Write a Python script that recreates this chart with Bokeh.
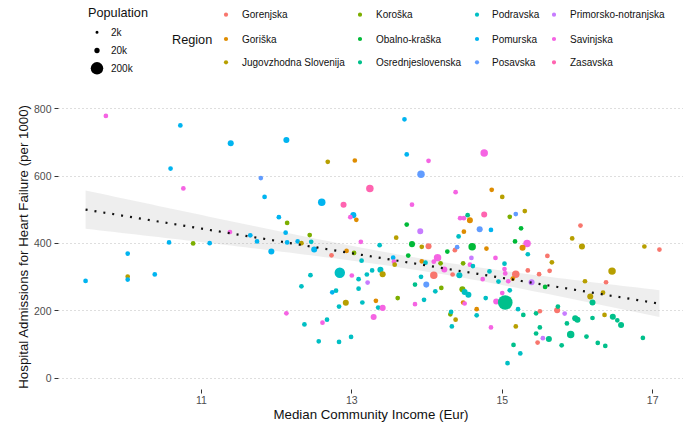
import numpy as np
from bokeh.plotting import figure
from bokeh.models import Range1d, FixedTicker, ColumnDataSource
from bokeh.layouts import column
from bokeh.embed import file_html
from bokeh.resources import INLINE
from bokeh.core.properties import value

# ---------------- data ----------------
income = [
    9.73, 10.72, 11.39, 10.59, 10.76, 11.38, 10.57, 10.89, 11.11, 9.46,
    10.02, 10.02, 10.02, 10.38, 11.84, 11.65, 11.74, 11.93, 12.03, 12.13,
    13.70, 12.68, 13.04, 13.73, 14.02, 11.79, 13.92, 13.24, 14.38, 12.60,
    12.89, 13.80, 13.02, 12.98, 13.06, 12.14, 13.73, 13.91, 12.44, 12.12,
    13.59, 12.14, 12.28, 12.33, 12.46, 13.12, 13.37, 13.80, 14.02, 13.93,
    12.50, 12.73, 12.93, 13.03, 14.27, 13.75, 14.37, 13.55, 13.56, 13.57,
    13.93, 13.98, 14.14, 14.09, 14.18, 14.23, 14.48, 14.59, 14.57, 14.61,
    13.13, 12.84, 13.00, 13.20, 13.27, 13.38, 13.41, 12.45, 13.09, 13.21,
    13.92, 14.09, 14.34, 14.43, 13.84, 13.99, 14.19, 14.11, 12.33, 13.09,
    12.79, 12.74, 13.61, 12.92, 13.14, 13.32, 13.96, 13.84, 12.83, 13.35,
    13.41, 12.13, 13.29, 12.67, 12.61, 12.37, 12.99, 12.56, 12.83, 14.31,
    14.38, 14.33, 14.32, 14.44, 14.49, 14.54, 14.57, 14.49, 14.42, 14.60,
    14.40, 14.47, 14.50, 14.55, 14.48, 14.50, 14.66, 14.66, 14.76, 14.86,
    15.00, 14.76, 15.10, 15.18, 15.30, 14.70, 14.85, 15.25, 15.17, 15.33,
    15.27, 14.79, 15.34, 15.60, 15.66, 14.91, 15.03, 15.03, 15.04, 14.83,
    15.18, 15.34, 15.49, 15.63, 14.74, 14.95, 15.08, 15.14, 15.39, 15.57,
    15.10, 15.00, 14.78, 14.92, 15.04, 15.21, 15.28, 15.45, 15.50, 15.73,
    15.74, 15.83, 14.85, 15.18, 15.50, 15.86, 15.45, 15.54, 15.62, 15.47,
    15.15, 15.79, 15.24, 15.07, 16.46, 16.38, 16.10, 16.34, 16.17, 16.20,
    17.09, 16.89, 16.06, 16.04, 15.93, 15.97, 16.00, 16.20, 16.36, 16.47,
    16.53, 16.58, 15.91, 16.12, 16.27, 16.37, 16.87,
]

admissions = [
    778, 750, 697, 622, 563, 434, 403, 400, 401, 289,
    370, 302, 293, 308, 538, 424, 406, 376, 478, 707,
    768, 642, 646, 664, 645, 594, 605, 563, 552, 522,
    515, 515, 484, 478, 470, 461, 456, 436, 425, 432,
    417, 403, 406, 401, 405, 405, 395, 398, 392, 390,
    382, 365, 378, 372, 376, 364, 380, 358, 346, 337,
    347, 343, 358, 346, 341, 323, 341, 357, 337, 333,
    349, 313, 305, 308, 320, 322, 309, 306, 294, 284,
    301, 306, 308, 306, 278, 278, 268, 258, 273, 266,
    260, 255, 238, 224, 225, 230, 233, 220, 213, 210,
    209, 193, 182, 174, 165, 160, 123, 110, 108, 190,
    174, 154, 197, 475, 475, 484, 469, 435, 421, 390,
    389, 264, 256, 248, 225, 222, 205, 187, 668, 559,
    538, 486, 479, 487, 496, 442, 440, 445, 406, 400,
    387, 385, 368, 363, 344, 357, 340, 324, 311, 317,
    309, 320, 309, 319, 294, 287, 288, 296, 285, 271,
    261, 253, 238, 228, 225, 205, 188, 193, 199, 202,
    213, 192, 151, 154, 151, 163, 133, 119, 117, 106,
    99, 98, 74, 45, 318, 285, 288, 254, 243, 225,
    382, 391, 391, 453, 415, 178, 174, 179, 188, 183,
    172, 158, 130, 124, 105, 96, 120,
]

region_code = """
V M M M V V M K M M
M J M M M M M M M M
M J O M V P P Z V M
Z V M V O K B N K M
J M M J D V D B R J
M R O K B B R M V J
O D V V K V K N V D
D D V D D D J D D N
D R R D S P K D D D
D M K J D O D V D D
V V V D V D D D D K
J D D V V S O O D B
P K D D O V O D V O
J Z K P J P M B B V
O O D R J V D V V D
R R R R V D V O N B
D V D V S D S S R R
S N V J S S S N S R
S S D D J R J J J S
R J J R J S S S J S
S S S S S S S
""".split()

population = [
    14000, 14000, 30000, 14000, 14000, 14000, 14000, 14000, 14000, 14000,
    14000, 14000, 14000, 14000, 14000, 14000, 14000, 30000, 14000, 30000,
    14000, 14000, 14000, 14000, 14000, 14000, 55000, 55000, 14000, 55000,
    30000, 14000, 30000, 14000, 14000, 14000, 14000, 30000, 14000, 14000,
    14000, 14000, 14000, 14000, 14000, 14000, 14000, 30000, 30000, 14000,
    30000, 14000, 14000, 14000, 14000, 14000, 14000, 14000, 14000, 14000,
    14000, 14000, 55000, 14000, 14000, 30000, 14000, 14000, 14000, 14000,
    14000, 130000, 14000, 14000, 14000, 30000, 30000, 14000, 14000, 14000,
    14000, 55000, 14000, 30000, 14000, 30000, 14000, 14000, 14000, 14000,
    14000, 14000, 14000, 30000, 14000, 14000, 14000, 14000, 14000, 14000,
    30000, 14000, 30000, 14000, 14000, 14000, 14000, 14000, 14000, 14000,
    14000, 14000, 14000, 14000, 14000, 14000, 30000, 14000, 14000, 55000,
    14000, 30000, 30000, 30000, 14000, 14000, 14000, 14000, 55000, 14000,
    14000, 30000, 14000, 14000, 14000, 30000, 14000, 14000, 14000, 55000,
    30000, 14000, 14000, 14000, 14000, 14000, 14000, 14000, 14000, 14000,
    55000, 14000, 14000, 14000, 14000, 14000, 14000, 14000, 30000, 14000,
    14000, 14000, 14000, 30000, 290000, 14000, 14000, 14000, 14000, 30000,
    14000, 14000, 14000, 14000, 14000, 14000, 14000, 14000, 30000, 14000,
    14000, 14000, 14000, 14000, 55000, 14000, 14000, 14000, 30000, 30000,
    14000, 14000, 30000, 14000, 14000, 30000, 30000, 14000, 14000, 30000,
    14000, 30000, 55000, 14000, 14000, 14000, 14000,
]

region_names = ["Gorenjska", "Goriška", "Jugovzhodna Slovenija", "Koroška",
                "Obalno-kraška", "Osrednjeslovenska", "Podravska", "Pomurska",
                "Posavska", "Primorsko-notranjska", "Savinjska", "Zasavska"]
region_keys = ["R", "O", "J", "K", "B", "S", "D", "M", "P", "N", "V", "Z"]
region_colors = ["#F8766D", "#DE8C00", "#B79F00", "#7CAE00", "#00BA38", "#00C08B",
                 "#00BFC4", "#00B4F0", "#619CFF", "#C77CFF", "#F564E3", "#FF64B0"]

size_breaks = [2000, 20000, 200000]
size_labels = ["2k", "20k", "200k"]

x_ticks = [11, 13, 15, 17]
y_ticks = [0, 200, 400, 600, 800]

assert len(income) == len(admissions) == len(region_code) == len(population)

FONT = "Liberation Sans"
OFF = 1.5          # where the page content actually starts
LEFT = 58          # left border shared by both panels
W = 683
LEG_H = 103


def dot_size(p):
    return 3.0 + 0.0236 * (np.sqrt(np.asarray(p, dtype=float)) - np.sqrt(2000.0))


color_of = dict(zip(region_keys, region_colors))
name_of = dict(zip(region_keys, region_names))

# ---------------- legend strip (top), in page pixel coordinates ----------------
leg = figure(width=W, height=LEG_H,
             x_range=Range1d(OFF + LEFT, OFF + W), y_range=Range1d(OFF + LEG_H, OFF),
             x_axis_type=None, y_axis_type=None, output_backend="svg",
             toolbar_location=None, min_border_left=LEFT, min_border_right=0,
             min_border_top=0, min_border_bottom=0)
leg.outline_line_color = None
leg.grid.visible = False

leg.text(x=[89], y=[14], text=["Population"], text_font=value(FONT),
         text_font_size="12.7px", text_baseline="middle", text_align="left",
         text_color="#111111")
size_y = [33.3, 51.5, 69.3]
leg.scatter(x=[98, 98, 98], y=size_y, size=dot_size(size_breaks),
            color="black", line_color=None)
leg.text(x=[112, 112, 112], y=size_y, text=size_labels, text_font=value(FONT),
         text_font_size="10px", text_baseline="middle", text_align="left",
         text_color="#111111")

leg.text(x=[173], y=[40.5], text=["Region"], text_font=value(FONT),
         text_font_size="12.7px", text_baseline="middle", text_align="left",
         text_color="#111111")
col_dot_x = [227, 361, 478, 555]
col_txt_x = [243, 377, 493, 571]
row_y = [15.7, 40, 63.3]
lx, ly, tx = [], [], []
for i, nm in enumerate(region_names):
    c, r = divmod(i, 3)
    lx.append(col_dot_x[c]); tx.append(col_txt_x[c]); ly.append(row_y[r])
leg.scatter(x=lx, y=ly, size=4.2, color=region_colors, line_color=None)
leg.text(x=tx, y=ly, text=region_names, text_font=value(FONT), text_font_size="10px",
         text_baseline="middle", text_align="left", text_color="#111111")

# ---------------- main scatter ----------------
p = figure(width=W, height=321, x_range=Range1d(9.10, 17.41), y_range=Range1d(-33, 815),
           output_backend="svg", toolbar_location=None,
           min_border_left=LEFT, min_border_right=0, min_border_top=0, min_border_bottom=34)
p.outline_line_color = None
p.background_fill_color = "white"

x = np.array(income, dtype=float)
y = np.array(admissions, dtype=float)
n = len(x)
b1, b0 = np.polyfit(x, y, 1)
resid = y - (b0 + b1 * x)
s = np.sqrt(np.sum(resid ** 2) / (n - 2))
xbar = x.mean()
sxx = np.sum((x - xbar) ** 2)
xs = np.linspace(x.min(), x.max(), 80)
fit = b0 + b1 * xs
se = s * np.sqrt(1.0 / n + (xs - xbar) ** 2 / sxx)
tval = 1.972

p.varea(x=xs, y1=fit - tval * se, y2=fit + tval * se, fill_color="#999999", fill_alpha=0.17)

src = ColumnDataSource(dict(
    x=income, y=admissions,
    size=dot_size(population),
    color=[color_of[k] for k in region_code],
    region=[name_of[k] for k in region_code],
))
p.scatter("x", "y", size="size", color="color", line_color=None, source=src)

p.line(xs, fit, line_color="#111111", line_width=2.2, line_dash="2 7", line_cap="butt")

p.xaxis.ticker = FixedTicker(ticks=x_ticks)
p.yaxis.ticker = FixedTicker(ticks=y_ticks)
p.xaxis.axis_label = "Median Community Income (Eur)"
p.yaxis.axis_label = "Hospital Admissions for Heart Failure (per 1000)"
for ax in (p.xaxis, p.yaxis):
    ax.axis_line_color = None
    ax.major_tick_line_color = "#333333"
    ax.major_tick_in = 0
    ax.major_tick_out = 4
    ax.minor_tick_line_color = None
    ax.major_label_text_color = "#4D4D4D"
    ax.major_label_text_font = FONT
    ax.major_label_text_font_size = "10.5px"
    ax.axis_label_text_font = FONT
    ax.axis_label_text_font_size = "13.3px"
    ax.axis_label_text_font_style = "normal"
    ax.axis_label_text_color = "#111111"
p.xaxis.major_label_standoff = 2
p.xaxis.axis_label_standoff = 0
p.yaxis.major_label_standoff = 3
p.yaxis.axis_label_standoff = 0

p.xgrid.grid_line_color = None
p.ygrid.grid_line_color = "#BDBDBD"
p.ygrid.grid_line_dash = "1 3"
p.ygrid.grid_line_width = 1

layout = column(leg, p, spacing=0)
open("out.html", "w").write(file_html(layout, INLINE))
